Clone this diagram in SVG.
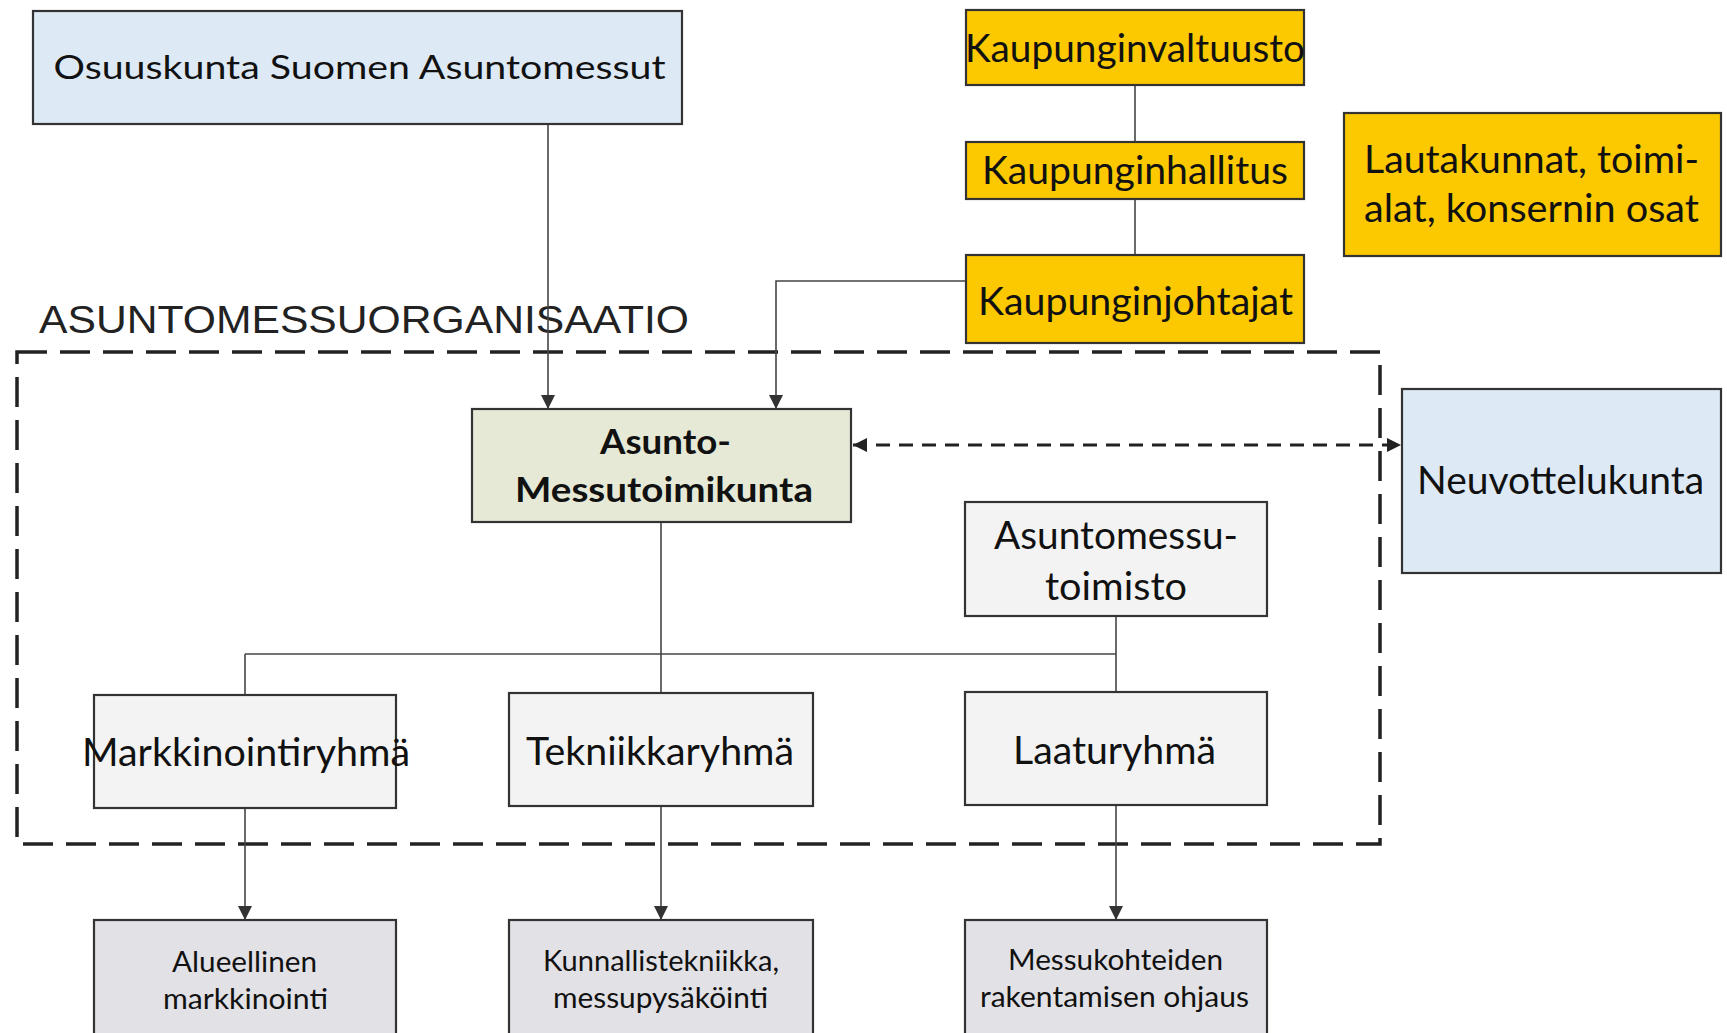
<svg xmlns="http://www.w3.org/2000/svg" width="1727" height="1033" viewBox="0 0 1727 1033">
<style>
.box{stroke:#333;stroke-width:2.2}
.blue{fill:#dde9f5}
.yellow{fill:#fcc900}
.olive{fill:#e5e9d6}
.light{fill:#f3f3f3}
.grey{fill:#e2e2e6}
.t{font-family:Lato,"Liberation Sans",sans-serif;fill:#111;text-anchor:middle}
.big{font-size:38px}
.mid{font-size:32px}
.small{font-size:29px}
.bold{font-size:35px;font-weight:bold}
.line{stroke:#444;stroke-width:1.6;fill:none}
.dash{stroke:#222;stroke-width:3;fill:none;stroke-dasharray:14 9}
.frame{stroke:#222;stroke-width:3.5;fill:none;stroke-dasharray:30 13}
</style>
<defs>
<marker id="arr" markerUnits="userSpaceOnUse" markerWidth="14" markerHeight="16" refX="14" refY="7" orient="auto">
<path d="M0,0 L14,7 L0,14 Z" fill="#333"/>
</marker>
<marker id="arrS" markerUnits="userSpaceOnUse" markerWidth="14" markerHeight="16" refX="14" refY="7" orient="auto-start-reverse">
<path d="M0,0 L14,7 L0,14 Z" fill="#222"/>
</marker>
</defs>
<rect width="1727" height="1033" fill="#fff"/>

<g id="frame">
<rect class="frame" x="17" y="352" width="1363" height="492"/>
<text x="364" y="333" font-family="'Liberation Sans',Arial,sans-serif" font-size="38" fill="#222" text-anchor="middle" textLength="650" lengthAdjust="spacingAndGlyphs">ASUNTOMESSUORGANISAATIO</text>
</g>

<g id="connectors">
<line class="line" x1="548" y1="125" x2="548" y2="409" marker-end="url(#arr)"/>
<line class="line" x1="1135" y1="85" x2="1135" y2="142"/>
<line class="line" x1="1135" y1="199" x2="1135" y2="255"/>
<polyline class="line" points="966,281 776,281 776,409" marker-end="url(#arr)"/>
<line class="line" x1="661" y1="522" x2="661" y2="693"/>
<line class="line" x1="245" y1="654" x2="1116" y2="654"/>
<line class="line" x1="245" y1="654" x2="245" y2="695"/>
<line class="line" x1="1116" y1="616" x2="1116" y2="692"/>
<line class="line" x1="245" y1="808" x2="245" y2="920" marker-end="url(#arr)"/>
<line class="line" x1="661" y1="806" x2="661" y2="920" marker-end="url(#arr)"/>
<line class="line" x1="1116" y1="805" x2="1116" y2="920" marker-end="url(#arr)"/>
<line class="dash" x1="853" y1="445" x2="1401" y2="445" marker-start="url(#arrS)" marker-end="url(#arrS)"/>
</g>

<g id="osuuskunta">
<rect class="box blue" x="33" y="11" width="649" height="113"/>
<text class="t mid" x="359.5" y="79" textLength="612" lengthAdjust="spacingAndGlyphs">Osuuskunta Suomen Asuntomessut</text>
</g>

<g id="kaupunginvaltuusto">
<rect class="box yellow" x="966" y="10" width="338" height="75"/>
<text class="t big" x="1135" y="62" textLength="340" lengthAdjust="spacingAndGlyphs">Kaupunginvaltuusto</text>
</g>

<g id="kaupunginhallitus">
<rect class="box yellow" x="966" y="142" width="338" height="57"/>
<text class="t big" x="1135" y="184" textLength="306" lengthAdjust="spacingAndGlyphs">Kaupunginhallitus</text>
</g>

<g id="kaupunginjohtajat">
<rect class="box yellow" x="966" y="255" width="338" height="88"/>
<text class="t big" x="1135.5" y="315" textLength="315" lengthAdjust="spacingAndGlyphs">Kaupunginjohtajat</text>
</g>

<g id="lautakunnat">
<rect class="box yellow" x="1344" y="113" width="377" height="143"/>
<text class="t big" x="1531.5" y="173" textLength="335" lengthAdjust="spacingAndGlyphs">Lautakunnat, toimi-</text>
<text class="t big" x="1531.5" y="222" textLength="335" lengthAdjust="spacingAndGlyphs">alat, konsernin osat</text>
</g>

<g id="asunto-messutoimikunta">
<rect class="box olive" x="472" y="409" width="379" height="113"/>
<text class="t bold" x="665.5" y="454" textLength="131" lengthAdjust="spacingAndGlyphs">Asunto-</text>
<text class="t bold" x="664" y="502" textLength="298" lengthAdjust="spacingAndGlyphs">Messutoimikunta</text>
</g>

<g id="neuvottelukunta">
<rect class="box blue" x="1402" y="389" width="319" height="184"/>
<text class="t big" x="1560.5" y="494" textLength="287" lengthAdjust="spacingAndGlyphs">Neuvottelukunta</text>
</g>

<g id="asuntomessutoimisto">
<rect class="box light" x="965" y="502" width="302" height="114"/>
<text class="t big" x="1116" y="549" textLength="244" lengthAdjust="spacingAndGlyphs">Asuntomessu-</text>
<text class="t big" x="1116" y="600" textLength="142" lengthAdjust="spacingAndGlyphs">toimisto</text>
</g>

<g id="markkinointiryhma">
<rect class="box light" x="94" y="695" width="302" height="113"/>
<text class="t big" x="246" y="766" textLength="328" lengthAdjust="spacingAndGlyphs">Markkinointiryhmä</text>
</g>

<g id="tekniikkaryhma">
<rect class="box light" x="509" y="693" width="304" height="113"/>
<text class="t big" x="660" y="765" textLength="268" lengthAdjust="spacingAndGlyphs">Tekniikkaryhmä</text>
</g>

<g id="laaturyhma">
<rect class="box light" x="965" y="692" width="302" height="113"/>
<text class="t big" x="1114.5" y="764" textLength="203" lengthAdjust="spacingAndGlyphs">Laaturyhmä</text>
</g>

<g id="alueellinen">
<rect class="box grey" x="94" y="920" width="302" height="125"/>
<text class="t small" x="244.5" y="972" textLength="145" lengthAdjust="spacingAndGlyphs">Alueellinen</text>
<text class="t small" x="245.5" y="1009" textLength="165" lengthAdjust="spacingAndGlyphs">markkinointi</text>
</g>

<g id="kunnallistekniikka">
<rect class="box grey" x="509" y="920" width="304" height="125"/>
<text class="t small" x="661" y="971" textLength="236" lengthAdjust="spacingAndGlyphs">Kunnallistekniikka,</text>
<text class="t small" x="660.5" y="1008" textLength="215" lengthAdjust="spacingAndGlyphs">messupysäköinti</text>
</g>

<g id="messukohteiden">
<rect class="box grey" x="965" y="920" width="302" height="125"/>
<text class="t small" x="1115.5" y="970" textLength="215" lengthAdjust="spacingAndGlyphs">Messukohteiden</text>
<text class="t small" x="1114.5" y="1007" textLength="269" lengthAdjust="spacingAndGlyphs">rakentamisen ohjaus</text>
</g>
</svg>
